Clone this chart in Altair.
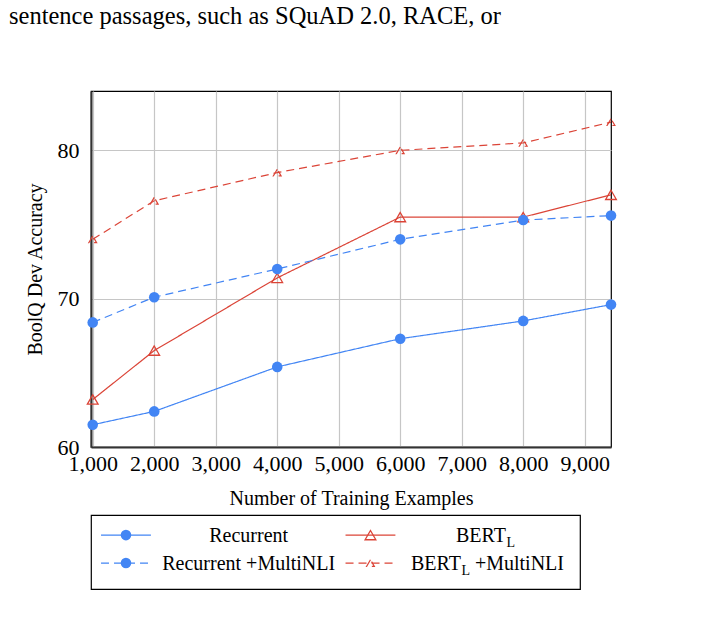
import altair as alt
import pandas as pd

# BoolQ dev accuracy (%) against the number of training examples
train_sizes = [1000, 2000, 4000, 6000, 8000, 9427]
recurrent = [61.5, 62.4, 65.4, 67.3, 68.5, 69.6]
bert_large = [63.2, 66.5, 71.4, 75.5, 75.5, 77.0]
recurrent_mnli = [68.4, 70.1, 72.0, 74.0, 75.3, 75.6]
bert_large_mnli = [74.0, 76.6, 78.5, 80.0, 80.5, 81.9]

series_names = ["Recurrent", "BERT_L", "Recurrent +MultiNLI", "BERT_L +MultiNLI"]
x_ticks = [1000, 2000, 3000, 4000, 5000, 6000, 7000, 8000, 9000]
y_ticks = [60, 70, 80]
heading = "sentence passages, such as SQuAD 2.0, RACE, or"

BLUE = "#4285F4"
RED = "#DB4437"
FONT = "Liberation Serif"
series_colors = [BLUE, RED, BLUE, RED]
line_dashes = [[1, 0], [1, 0], [8, 5], [8, 5]]
legend_dashes = [[1, 0], [1, 0], [7, 36], [7, 36]]

rows = []
for name, values in zip(series_names, [recurrent, bert_large, recurrent_mnli, bert_large_mnli]):
    for n, acc in zip(train_sizes, values):
        rows.append({"series": name, "examples": n, "accuracy": acc})
df = pd.DataFrame(rows)

color_scale = alt.Scale(domain=series_names, range=series_colors)

x_enc = alt.X(
    "examples:Q",
    scale=alt.Scale(domain=[972, 9427], nice=False, zero=False),
    axis=alt.Axis(values=x_ticks, format=",d", title="Number of Training Examples",
                  labelFlush=False, labelOverlap=False, labelPadding=6, titlePadding=14),
)
y_enc = alt.Y(
    "accuracy:Q",
    scale=alt.Scale(domain=[60, 84], nice=False, zero=False),
    axis=alt.Axis(values=y_ticks, title="BoolQ Dev Accuracy", labelPadding=12, titlePadding=12),
)

base = alt.Chart(df).encode(x=x_enc, y=y_enc)

lines = base.mark_line(strokeWidth=1.2).encode(
    color=alt.Color("series:N", scale=color_scale, legend=None),
    strokeDash=alt.StrokeDash("series:N", scale=alt.Scale(domain=series_names, range=line_dashes), legend=None),
)
bert_pts = base.transform_filter(alt.FieldEqualPredicate(field="series", equal="BERT_L")).mark_point(
    shape="triangle-up", size=115, filled=False, color=RED, strokeWidth=1.3, opacity=1
)
rec_pts = base.transform_filter(
    alt.FieldOneOfPredicate(field="series", oneOf=["Recurrent", "Recurrent +MultiNLI"])
).mark_circle(size=112, color=BLUE, opacity=1)
bert_mnli_pts = base.transform_filter(
    alt.FieldEqualPredicate(field="series", equal="BERT_L +MultiNLI")
).mark_point(shape="triangle-up", size=60, filled=False, color=RED, strokeWidth=1.2,
             strokeDash=[8, 5], opacity=1)

main = alt.layer(lines, bert_pts, rec_pts, bert_mnli_pts).properties(
    width=520, height=356,
    title=alt.TitleParams(heading, anchor="start", frame="group", dx=-82, offset=62,
                          font="Liberation Serif, Times New Roman, serif", fontSize=24.5,
                          fontWeight="normal", color="black"),
)

# Legend box: two columns, two rows; positions measured in column units
legend_df = pd.DataFrame({
    "series": series_names,
    "col": [0, 1, 0, 1],
    "row": [0, 0, 1, 1],
    "main": ["Recurrent", "BERT", "Recurrent +MultiNLI", "BERT"],
    "sub": ["", "L", "", "L"],
    "suffix": ["", "", "", "+MultiNLI"],
})
legend_df["x0"] = legend_df["col"] + 0.041
legend_df["x1"] = legend_df["col"] + 0.245
legend_df["xm"] = legend_df["col"] + 0.143
legend_df["xt"] = [0.645, 1.697, 0.645, 1.513]

lx = alt.Scale(domain=[0, 2], nice=False, zero=False)
ly = alt.Scale(domain=[-0.72, 1.93], nice=False, zero=False, reverse=True)
lbase = alt.Chart(legend_df).encode(y=alt.Y("row:Q", scale=ly, axis=None))

l_rules = lbase.mark_rule(strokeWidth=1.2).encode(
    x=alt.X("x0:Q", scale=lx, axis=None),
    x2="x1:Q",
    color=alt.Color("series:N", scale=color_scale, legend=None),
    strokeDash=alt.StrokeDash("series:N", scale=alt.Scale(domain=series_names, range=legend_dashes), legend=None),
)
l_circles = lbase.transform_filter(
    alt.FieldOneOfPredicate(field="series", oneOf=["Recurrent", "Recurrent +MultiNLI"])
).mark_circle(size=112, color=BLUE, opacity=1).encode(x=alt.X("xm:Q", scale=lx, axis=None))
l_tri = lbase.transform_filter(alt.FieldEqualPredicate(field="series", equal="BERT_L")).mark_point(
    shape="triangle-up", size=115, filled=False, color=RED, strokeWidth=1.3, opacity=1
).encode(x=alt.X("xm:Q", scale=lx, axis=None))
l_tri_small = lbase.transform_filter(
    alt.FieldEqualPredicate(field="series", equal="BERT_L +MultiNLI")
).mark_point(shape="triangle-up", size=60, filled=False, color=RED, strokeWidth=1.2,
             strokeDash=[8, 5], opacity=1).encode(x=alt.X("xm:Q", scale=lx, axis=None))

rec_filter = alt.FieldOneOfPredicate(field="series", oneOf=["Recurrent", "Recurrent +MultiNLI"])
bert_filter = alt.FieldOneOfPredicate(field="series", oneOf=["BERT_L", "BERT_L +MultiNLI"])

l_text_rec = lbase.transform_filter(rec_filter).mark_text(
    align="center", baseline="alphabetic", dy=7, font=FONT, fontSize=20, color="black"
).encode(x=alt.X("xt:Q", scale=lx, axis=None), text="main:N")
l_text_bert = lbase.transform_filter(bert_filter).mark_text(
    align="right", baseline="alphabetic", dy=7, font=FONT, fontSize=20, color="black"
).encode(x=alt.X("xt:Q", scale=lx, axis=None), text="main:N")
l_text_sub = lbase.transform_filter(bert_filter).mark_text(
    align="left", baseline="alphabetic", dx=0.5, dy=11.5, font=FONT, fontSize=14, color="black"
).encode(x=alt.X("xt:Q", scale=lx, axis=None), text="sub:N")
l_text_suffix = lbase.transform_filter(bert_filter).mark_text(
    align="left", baseline="alphabetic", dx=14, dy=7, font=FONT, fontSize=20, color="black"
).encode(x=alt.X("xt:Q", scale=lx, axis=None), text="suffix:N")

legend = alt.layer(
    l_rules, l_circles, l_tri, l_tri_small, l_text_rec, l_text_bert, l_text_sub, l_text_suffix
).properties(width=489, height=74)

chart = alt.vconcat(main, legend, spacing=68, bounds="flush").configure(
    font=FONT,
    padding={"left": 8, "top": 2, "right": 10, "bottom": 10},
).configure_title(
    font=FONT, fontSize=24.5, fontWeight="normal", color="black"
).configure_view(
    stroke="black", strokeWidth=1.2
).configure_axis(
    labelFont=FONT, labelFontSize=22, labelColor="black",
    titleFont=FONT, titleFontSize=20, titleFontWeight="normal", titleColor="black",
    gridColor="#c6c6c6", gridWidth=1.2, ticks=False,
    domainColor="#333333", domainWidth=2,
)

chart.save("out.html", embed_options={"renderer": "svg", "actions": False})
